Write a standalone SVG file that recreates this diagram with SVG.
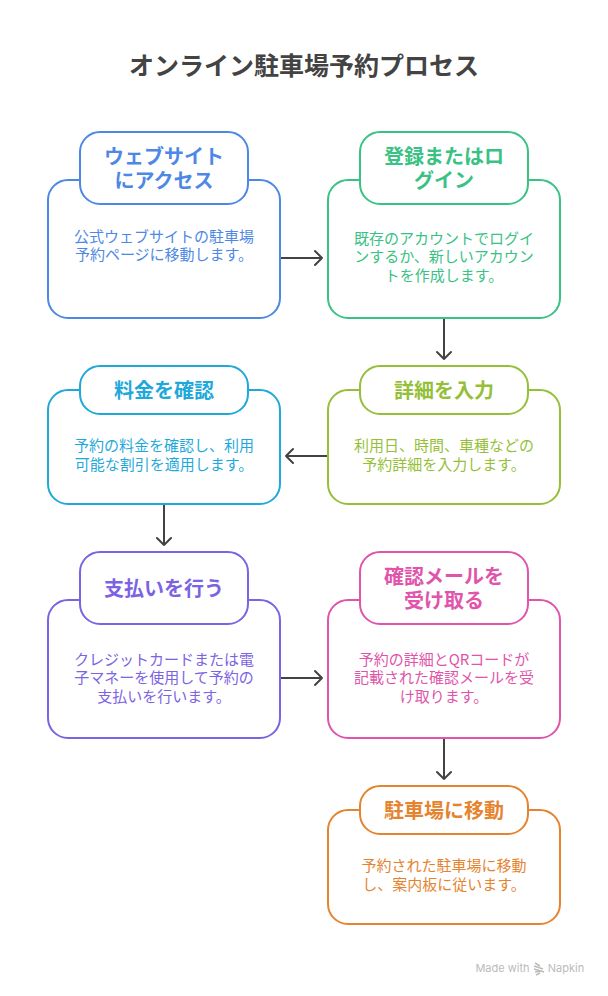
<svg xmlns="http://www.w3.org/2000/svg" width="608" height="996" viewBox="0 0 608 996">
<style>
text{font-family:"Noto Sans CJK JP","Noto Sans",sans-serif;text-anchor:middle}
.t{font-size:25px;font-weight:700;fill:#434343}
.h{font-size:20px;font-weight:700}
.b{font-size:15px}
rect{fill:#fff;stroke-width:2}
.c{fill:none;stroke:#434343;stroke-width:2;stroke-linecap:round;stroke-linejoin:round}
.blue rect{stroke:#4e88e5}.blue text{fill:#4e88e5}
.green rect{stroke:#39c283}.green text{fill:#39c283}
.lime rect{stroke:#95bf39}.lime text{fill:#95bf39}
.sky rect{stroke:#1fa9da}.sky text{fill:#1fa9da}
.purple rect{stroke:#7c63e3}.purple text{fill:#7c63e3}
.pink rect{stroke:#e055ab}.pink text{fill:#e055ab}
.orange rect{stroke:#e5842f}.orange text{fill:#e5842f}
.m{font-family:"Inter","Liberation Sans",sans-serif;font-size:11px;fill:#bbb}
</style>
<rect width="608" height="996" style="fill:#fff;stroke:none"/>
<text class="t" x="304" y="75">オンライン駐車場予約プロセス</text>
<g id="connectors">
<path class="c" d="M281 258H322M315 251l7 7l-7 7"/>
<path class="c" d="M444 319V359M437 352l7 7l7-7"/>
<path class="c" d="M327 456H286M293 449l-7 7l7 7"/>
<path class="c" d="M164 505V545M157 538l7 7l7-7"/>
<path class="c" d="M281 678H322M315 671l7 7l-7 7"/>
<path class="c" d="M444 739V779M437 772l7 7l7-7"/>
</g>
<g id="n1" class="blue">
<rect x="48" y="180" width="232" height="138" rx="20"/><rect x="80" y="132" width="168" height="72" rx="20"/>
<text class="h" x="164" y="164">ウェブサイト</text><text class="h" x="164" y="188">にアクセス</text>
<text class="b" x="164" y="242">公式ウェブサイトの駐車場</text><text class="b" x="164" y="260">予約ページに移動します。</text>
</g>
<g id="n2" class="green">
<rect x="328" y="180" width="232" height="138" rx="20"/><rect x="360" y="132" width="168" height="72" rx="20"/>
<text class="h" x="444" y="164">登録またはロ</text><text class="h" x="444" y="188">グイン</text>
<text class="b" x="444" y="244">既存のアカウントでログイ</text><text class="b" x="444" y="262">ンするか、新しいアカウン</text><text class="b" x="444" y="281">トを作成します。</text>
</g>
<g id="n3" class="lime">
<rect x="328" y="390" width="232" height="114" rx="20"/><rect x="360" y="366" width="168" height="48" rx="20"/>
<text class="h" x="444" y="398">詳細を入力</text>
<text class="b" x="444" y="451">利用日、時間、車種などの</text><text class="b" x="444" y="470">予約詳細を入力します。</text>
</g>
<g id="n4" class="sky">
<rect x="48" y="390" width="232" height="114" rx="20"/><rect x="80" y="366" width="168" height="48" rx="20"/>
<text class="h" x="164" y="398">料金を確認</text>
<text class="b" x="164" y="451">予約の料金を確認し、利用</text><text class="b" x="164" y="470">可能な割引を適用します。</text>
</g>
<g id="n5" class="purple">
<rect x="48" y="600" width="232" height="138" rx="20"/><rect x="80" y="552" width="168" height="72" rx="20"/>
<text class="h" x="164" y="596">支払いを行う</text>
<text class="b" x="164" y="665">クレジットカードまたは電</text><text class="b" x="164" y="683">子マネーを使用して予約の</text><text class="b" x="164" y="702">支払いを行います。</text>
</g>
<g id="n6" class="pink">
<rect x="328" y="600" width="232" height="138" rx="20"/><rect x="360" y="552" width="168" height="72" rx="20"/>
<text class="h" x="444" y="584">確認メールを</text><text class="h" x="444" y="608">受け取る</text>
<text class="b" x="444" y="665">予約の詳細とQRコードが</text><text class="b" x="444" y="683">記載された確認メールを受</text><text class="b" x="444" y="702">け取ります。</text>
</g>
<g id="n7" class="orange">
<rect x="328" y="810" width="232" height="114" rx="20"/><rect x="360" y="786" width="168" height="48" rx="20"/>
<text class="h" x="444" y="818">駐車場に移動</text>
<text class="b" x="444" y="871">予約された駐車場に移動</text><text class="b" x="444" y="890">し、案内板に従います。</text>
</g>
<g id="credit">
<text class="m" x="502.500" y="972">Made with</text>
<path d="M535 963l5 3M534 966l9 3M534 969l10 3M535 972l7-1M536 975l4-2" fill="none" stroke="#bbb" stroke-width="1.500"/>
<text class="m" x="566" y="972">Napkin</text>
</g>
</svg>
